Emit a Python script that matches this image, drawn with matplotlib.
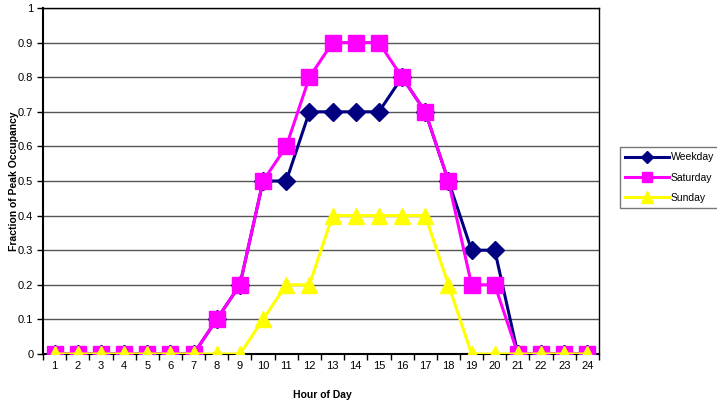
import matplotlib
matplotlib.use("Agg")
import matplotlib.pyplot as plt
from matplotlib.ticker import FixedLocator

plt.rcParams['font.family'] = ['Liberation Sans', 'DejaVu Sans']

hours = list(range(1, 25))
weekday = [0, 0, 0, 0, 0, 0, 0, 0.1, 0.2, 0.5, 0.5, 0.7, 0.7, 0.7, 0.7, 0.8,
           0.7, 0.5, 0.3, 0.3, 0, 0, 0, 0]
saturday = [0, 0, 0, 0, 0, 0, 0, 0.1, 0.2, 0.5, 0.6, 0.8, 0.9, 0.9, 0.9, 0.8,
            0.7, 0.5, 0.2, 0.2, 0, 0, 0, 0]
sunday = [0, 0, 0, 0, 0, 0, 0, 0, 0, 0.1, 0.2, 0.2, 0.4, 0.4, 0.4, 0.4,
          0.4, 0.2, 0, 0, 0, 0, 0, 0]
y_ticks = [0, 0.1, 0.2, 0.3, 0.4, 0.5, 0.6, 0.7, 0.8, 0.9, 1]
y_labels = ['0', '0.1', '0.2', '0.3', '0.4', '0.5', '0.6', '0.7', '0.8', '0.9', '1']

fig = plt.figure(figsize=(7.17, 4.04), dpi=100)
ax = fig.add_axes([43 / 717, 1 - 354 / 404, (599 - 43) / 717, (354 - 8) / 404])

ax.plot(hours, weekday, color='#000080', lw=2.2, marker='D', ms=9,
        label='Weekday', zorder=3)
ax.plot(hours, saturday, color='#FF00FF', lw=2.2, marker='s', ms=11,
        label='Saturday', zorder=4)
ax.plot(hours, sunday, color='#FFFF00', lw=2.2, marker='^', ms=12,
        label='Sunday', zorder=5)

ax.set_xlim(0.5, 24.5)
ax.set_ylim(0, 1)
ax.set_yticks(y_ticks)
ax.set_yticklabels(y_labels)
ax.set_xticks(hours)
ax.set_xticklabels([str(h) for h in hours])
ax.tick_params(axis='x', which='major', length=0, labelsize=8, pad=5)
ax.xaxis.set_minor_locator(FixedLocator([h + 0.5 for h in range(0, 25)]))
ax.tick_params(axis='x', which='minor', length=4, direction='out', width=1)
ax.tick_params(axis='y', length=4, direction='out', labelsize=8, width=1, pad=3)

ax.grid(axis='y', color='#555555', lw=1)
ax.set_axisbelow(True)
for s in ['left', 'bottom']:
    ax.spines[s].set_linewidth(1.5)
    ax.spines[s].set_color('black')
for s in ['top', 'right']:
    ax.spines[s].set_linewidth(1)
    ax.spines[s].set_color('black')

ax.set_xlabel('Hour of Day', fontsize=7.5, fontweight='bold')
ax.xaxis.set_label_coords((322 - 43) / 556, -36 / 346)
ax.set_ylabel('Fraction of Peak Occupancy', fontsize=7.5, fontweight='bold')
ax.yaxis.set_label_coords(-24 / 556, 0.5)

leg = fig.legend(loc='upper left', bbox_to_anchor=(620 / 717, 1 - 147 / 404),
                 fontsize=7.5, frameon=True, fancybox=False, edgecolor='#555555',
                 handlelength=4.2, borderaxespad=0, labelspacing=1.0,
                 handletextpad=0.15, borderpad=0.5, markerscale=0.7)
leg.get_frame().set_linewidth(1)

fig.savefig('out.png', dpi=100)
